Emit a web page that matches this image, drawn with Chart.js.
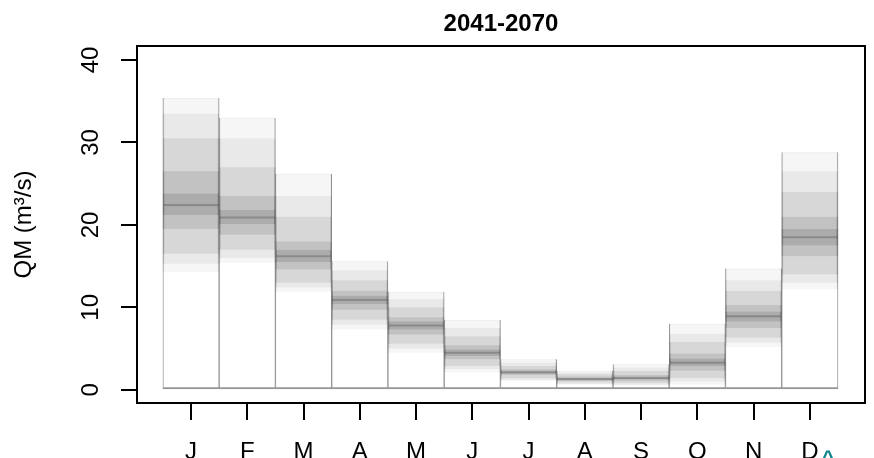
<!DOCTYPE html>
<html>
<head>
<meta charset="utf-8">
<script src="https://cdn.jsdelivr.net/npm/chart.js@4/dist/chart.umd.min.js"></script>
<style>
    html, body { margin: 0; padding: 0; background: #fff; }
    #wrap { width: 874px; height: 458px; }
</style>
</head>
<body>
<div id="wrap"><canvas id="chart"></canvas></div>
<script>
const months = ['J', 'F', 'M', 'A', 'M', 'J', 'J', 'A', 'S', 'O', 'N', 'D'];
const yTicks = [0, 10, 20, 30, 40];

// ensemble spread per month (m3/s)
const qMin = [14.3, 15.4, 11.9, 7.3, 4.5, 2.1, 1.1, 0.6, 0.5, 0.6, 5.2, 12.2];
const q05  = [15.3, 16.0, 12.4, 7.9, 5.0, 2.5, 1.2, 0.7, 0.6, 1.0, 5.7, 13.0];
const q10  = [16.5, 17.0, 13.0, 8.5, 5.6, 2.9, 1.4, 0.9, 0.8, 1.4, 6.3, 14.0];
const q25  = [19.5, 18.8, 14.6, 9.7, 6.7, 3.7, 1.8, 1.1, 1.1, 2.3, 7.5, 16.2];
const q40  = [21.2, 20.1, 15.5, 10.4, 7.3, 4.1, 2.0, 1.2, 1.3, 2.9, 8.3, 17.5];
const qMed = [22.4, 20.9, 16.2, 10.9, 7.8, 4.5, 2.1, 1.3, 1.4, 3.3, 8.9, 18.5];
const q60  = [23.8, 21.8, 17.0, 11.4, 8.3, 4.9, 2.3, 1.4, 1.6, 3.8, 9.5, 19.5];
const q75  = [26.5, 23.5, 18.0, 12.0, 8.8, 5.4, 2.5, 1.6, 1.8, 4.4, 10.3, 21.0];
const q90  = [30.5, 27.0, 21.0, 13.3, 10.0, 6.5, 2.9, 1.9, 2.3, 5.8, 12.0, 24.0];
const q95  = [33.5, 30.5, 23.5, 14.5, 11.0, 7.5, 3.3, 2.1, 2.7, 6.8, 13.3, 26.5];
const qMax = [35.4, 33.0, 26.2, 15.6, 11.9, 8.5, 3.7, 2.3, 3.1, 8.0, 14.7, 28.8];

const FONT = 'Liberation Sans, Arial, Helvetica, sans-serif';
const SIDES = {left: 1, right: 1, top: 0, bottom: 0};

function band(lo, hi) {
    return months.map((m, i) => ({x: i, y: [lo[i], hi[i]]}));
}

// order: higher values are painted first (underneath)
function bandDataset(data, fill, border, sides, order) {
    return {
        data,
        order,
        grouped: false,
        backgroundColor: fill,
        borderColor: border,
        borderWidth: sides,
        borderSkipped: false,
        barPercentage: 1,
        categoryPercentage: 1
    };
}

function shade(lo, hi, alpha, order) {
    return bandDataset(band(lo, hi), `rgba(0,0,0,${alpha})`, `rgba(90,90,90,${alpha * 2})`, SIDES, order);
}

const zeros = months.map(() => 0);
const medLo = qMed.map(v => v - 0.13);
const medHi = qMed.map(v => v + 0.13);
const topLo = qMax.map(v => v - 0.12);

// R style box round the plot area, plus the stray teal mark under D
const boxPlugin = {
    id: 'box',
    afterDraw(chart) {
        const {ctx, chartArea: a} = chart;
        ctx.save();
        ctx.strokeStyle = '#000';
        ctx.lineWidth = 2;
        ctx.strokeRect(a.left, a.top, a.right - a.left, a.bottom - a.top);
        ctx.fillStyle = '#12868f';
        ctx.font = `bold 22px ${FONT}`;
        ctx.textAlign = 'center';
        ctx.textBaseline = 'top';
        ctx.fillText('^', chart.scales.x.getPixelForValue(11.32), 449);
        ctx.restore();
    }
};

new Chart(document.getElementById('chart'), {
    type: 'bar',
    data: {
        datasets: [
            bandDataset(band(zeros, qMax), '#fff', 'rgb(150,150,150)', {left: 1, right: 1, bottom: 2, top: 0}, 9),
            bandDataset(band(topLo, qMax), 'rgba(0,0,0,0.03)', 'rgba(0,0,0,0)', SIDES, 8),
            shade(qMin, qMax, 0.035, 7),
            shade(q05, q95, 0.05, 6),
            shade(q10, q90, 0.075, 5),
            shade(q25, q75, 0.095, 4),
            shade(q40, q60, 0.11, 3),
            bandDataset(band(medLo, medHi), 'rgba(60,60,60,0.3)', 'rgba(0,0,0,0)', SIDES, 2)
        ]
    },
    options: {
        responsive: true,
        maintainAspectRatio: false,
        animation: false,
        layout: {padding: {top: 0, right: 9, bottom: 0, left: 0}},
        plugins: {
            legend: {display: false},
            tooltip: {enabled: false},
            title: {
                display: true,
                fullSize: false,  // centre over the plot box, like R
                text: '2041-2070',
                color: '#000',
                font: {family: FONT, size: 24, weight: 'bold', lineHeight: 1.2},
                padding: {top: 10, bottom: 7.2}
            }
        },
        scales: {
            x: {
                type: 'linear',
                offset: false,
                min: -0.96,
                max: 11.98,
                afterFit: s => { s.height = 55; },
                afterBuildTicks: s => { s.ticks = months.map((m, i) => ({value: i})); },
                border: {display: false},
                grid: {offset: false, drawOnChartArea: false, drawTicks: true, tickLength: 17, color: '#000', lineWidth: 2},
                ticks: {
                    color: '#000',
                    padding: 18,
                    maxRotation: 0,
                    font: {family: FONT, size: 24},
                    callback: v => months[v]
                }
            },
            y: {
                min: -1.6,
                max: 41.7,
                afterFit: s => { s.width = 137; },
                afterBuildTicks: s => { s.ticks = yTicks.map(v => ({value: v})); },
                border: {display: false},
                grid: {drawOnChartArea: false, drawTicks: true, tickLength: 16, color: '#000', lineWidth: 2},
                ticks: {
                    color: '#000',
                    minRotation: 90,
                    maxRotation: 90,
                    crossAlign: 'center',
                    padding: 16,
                    font: {family: FONT, size: 24}
                },
                title: {
                    display: true,
                    text: 'QM (m³/s)',
                    color: '#000',
                    font: {family: FONT, size: 24},
                    padding: {top: 10, bottom: 0}
                }
            }
        }
    },
    plugins: [boxPlugin]
});
</script>
</body>
</html>
